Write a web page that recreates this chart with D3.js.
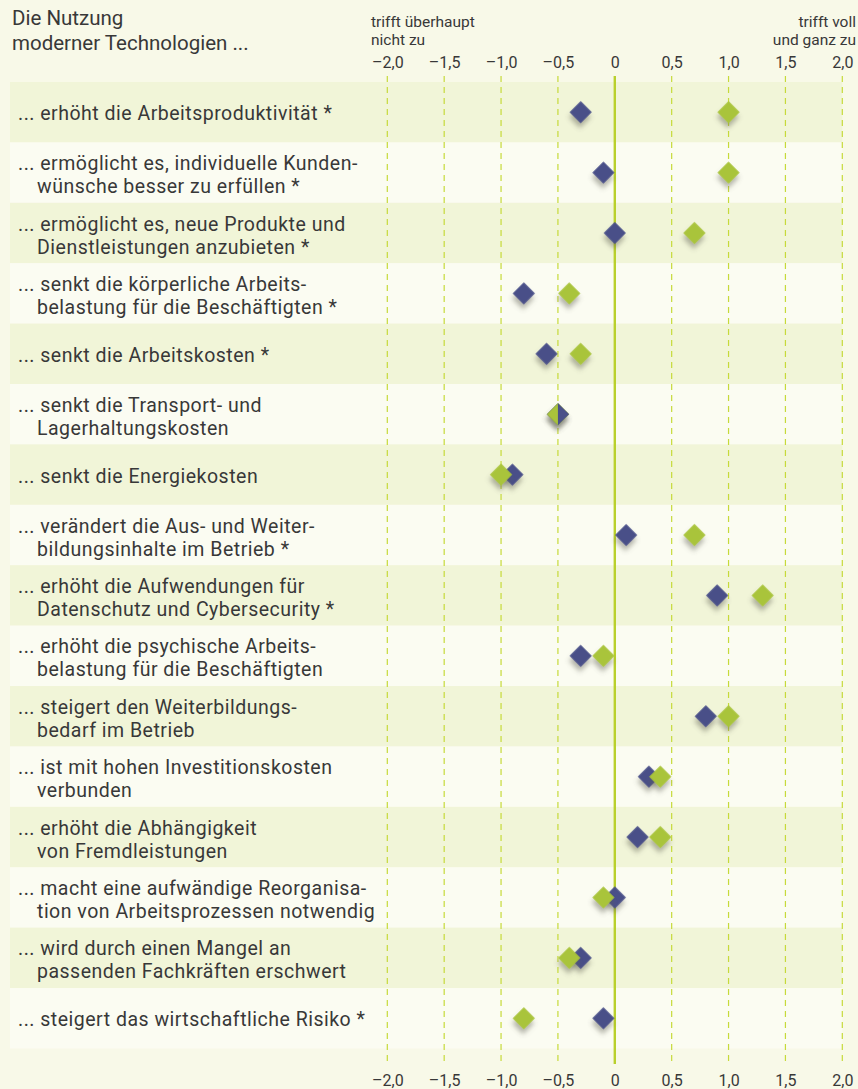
<!DOCTYPE html>
<html><head><meta charset="utf-8">
<script src="https://cdn.jsdelivr.net/npm/d3@7"></script>
<style>
html,body{margin:0;padding:0;background:#f8f9e8;}
svg{display:block;}
text{font-family:Roboto,"Open Sans",sans-serif;fill:#383838;}
</style></head>
<body>
<script>
const categories = [
  ["... erhöht die Arbeitsproduktivität *"],
  ["... ermöglicht es, individuelle Kunden-", "wünsche besser zu erfüllen *"],
  ["... ermöglicht es, neue Produkte und", "Dienstleistungen anzubieten *"],
  ["... senkt die körperliche Arbeits-", "belastung für die Beschäftigten *"],
  ["... senkt die Arbeitskosten *"],
  ["... senkt die Transport- und", "Lagerhaltungskosten"],
  ["... senkt die Energiekosten"],
  ["... verändert die Aus- und Weiter-", "bildungsinhalte im Betrieb *"],
  ["... erhöht die Aufwendungen für", "Datenschutz und Cybersecurity *"],
  ["... erhöht die psychische Arbeits-", "belastung für die Beschäftigten"],
  ["... steigert den Weiterbildungs-", "bedarf im Betrieb"],
  ["... ist mit hohen Investitionskosten", "verbunden"],
  ["... erhöht die Abhängigkeit", "von Fremdleistungen"],
  ["... macht eine aufwändige Reorganisa-", "tion von Arbeitsprozessen notwendig"],
  ["... wird durch einen Mangel an", "passenden Fachkräften erschwert"],
  ["... steigert das wirtschaftliche Risiko *"]
];
const blueValues  = [-0.3, -0.1, 0.0, -0.8, -0.6, -0.5, -0.9, 0.1, 0.9, -0.3, 0.8, 0.3, 0.2, 0.0, -0.3, -0.1];
const greenValues = [ 1.0,  1.0, 0.7, -0.4, -0.3, -0.5, -1.0, 0.7, 1.3, -0.1, 1.0, 0.4, 0.4, -0.1, -0.4, -0.8];
const tickValues = [-2, -1.5, -1, -0.5, 0, 0.5, 1, 1.5, 2];
const tickLabels = ["\u20132,0", "\u20131,5", "\u20131,0", "\u20130,5", "0", "0,5", "1,0", "1,5", "2,0"];
const titleLines = ["Die Nutzung", "moderner Technologien ..."];
const leftAnchor = ["trifft überhaupt", "nicht zu"];
const rightAnchor = ["trifft voll", "und ganz zu"];

const W = 858, H = 1089;
const svg = d3.select("body").append("svg").attr("width", W).attr("height", H);

const defs = svg.append("defs");
const f = defs.append("filter").attr("id", "sh").attr("x", "-50%").attr("y", "-50%").attr("width", "220%").attr("height", "220%");
f.append("feDropShadow").attr("dx", 3).attr("dy", 4).attr("stdDeviation", 2.6)
  .attr("flood-color", "#5a5a50").attr("flood-opacity", 0.45);

const x = d3.scaleLinear().domain([-2, 2]).range([387.3, 842.3]);
const y = d3.scaleBand().domain(d3.range(categories.length)).range([82, 1048.5]).paddingInner(0).paddingOuter(0);

// row bands
svg.append("g").selectAll("rect").data(categories).join("rect")
  .attr("x", 10).attr("y", (d, i) => y(i))
  .attr("width", x(2) - 10).attr("height", y.bandwidth())
  .attr("fill", (d, i) => i % 2 === 0 ? "#f1f5d8" : "#fbfcf2");

// grid lines
svg.append("g").selectAll("line").data(tickValues.filter(v => v !== 0)).join("line")
  .attr("x1", d => x(d)).attr("x2", d => x(d))
  .attr("y1", 76).attr("y2", 1064)
  .attr("stroke", "#c6da3a").attr("stroke-width", 1.2)
  .attr("stroke-dasharray", "6,5");
svg.append("line")
  .attr("x1", x(0)).attr("x2", x(0)).attr("y1", 76).attr("y2", 1064)
  .attr("stroke", "#b9d02c").attr("stroke-width", 2.4);

// top axis
const axTop = d3.axisTop(x).tickValues(tickValues).tickFormat((d, i) => tickLabels[i]).tickSize(0).tickPadding(0);
const gT = svg.append("g").attr("transform", "translate(0,68)").call(axTop);
gT.select(".domain").remove();
gT.selectAll("text").attr("font-size", 16).attr("fill", "#383838").attr("font-family", "Roboto, sans-serif").attr("dy", 0);

// bottom axis
const axBot = d3.axisBottom(x).tickValues(tickValues).tickFormat((d, i) => tickLabels[i]).tickSize(0).tickPadding(0);
const gB = svg.append("g").attr("transform", "translate(0,1086)").call(axBot);
gB.select(".domain").remove();
gB.selectAll("text").attr("font-size", 16).attr("fill", "#383838").attr("font-family", "Roboto, sans-serif").attr("dy", 0);

// titles
svg.append("g").selectAll("text").data(titleLines).join("text")
  .attr("x", 12).attr("y", (d, i) => 25 + i * 24.5)
  .attr("font-size", 20.5).text(d => d);
svg.append("g").selectAll("text").data(leftAnchor).join("text")
  .attr("x", 371).attr("y", (d, i) => 26.5 + i * 18.5)
  .attr("font-size", 15.5).text(d => d);
svg.append("g").selectAll("text").data(rightAnchor).join("text")
  .attr("x", 856).attr("y", (d, i) => 26.5 + i * 18.5).attr("text-anchor", "end")
  .attr("font-size", 15.5).text(d => d);

// row labels
const LFS = 19.5, LS = 0.5;
const lab = svg.append("g").selectAll("g").data(categories).join("g")
  .attr("transform", (d, i) => `translate(0,${y(i) + y.bandwidth() / 2})`);
lab.each(function(lines) {
  const g = d3.select(this);
  if (lines.length === 1) {
    g.append("text").attr("x", 18).attr("y", 8).attr("font-size", LFS).attr("letter-spacing", LS).text(lines[0]);
  } else {
    g.append("text").attr("x", 18).attr("y", -2.5).attr("font-size", LFS).attr("letter-spacing", LS).text(lines[0]);
    g.append("text").attr("x", 37).attr("y", 20.5).attr("font-size", LFS).attr("letter-spacing", LS).text(lines[1]);
  }
});

// diamonds
const diamond = d3.symbol().type(d3.symbolSquare).size(245);
const marks = svg.append("g");
const rows = categories.map((c, i) => ({i, b: blueValues[i], g: greenValues[i]}));
defs.append("clipPath").attr("id", "rightHalf").append("rect")
  .attr("x", 0).attr("y", -20).attr("width", 20).attr("height", 40);

marks.selectAll("path.blue").data(rows).join("path").attr("class", "blue")
  .attr("d", diamond)
  .attr("transform", d => `translate(${x(d.b)},${y(d.i) + y.bandwidth() / 2}) rotate(45)`)
  .attr("fill", "#4a5088").attr("filter", "url(#sh)");
marks.selectAll("path.green").data(rows).join("path").attr("class", "green")
  .attr("d", diamond)
  .attr("transform", d => `translate(${x(d.g)},${y(d.i) + y.bandwidth() / 2}) rotate(45)`)
  .attr("fill", "#a9c43a").attr("filter", "url(#sh)");
// ties: show blue on the right half
const ties = marks.selectAll("g.tie").data(rows.filter(d => d.b === d.g)).join("g").attr("class", "tie")
  .attr("transform", d => `translate(${x(d.b)},${y(d.i) + y.bandwidth() / 2})`);
ties.append("g").attr("clip-path", "url(#rightHalf)").append("path")
  .attr("d", diamond).attr("transform", "rotate(45)").attr("fill", "#4a5088");
</script>
</body></html>
